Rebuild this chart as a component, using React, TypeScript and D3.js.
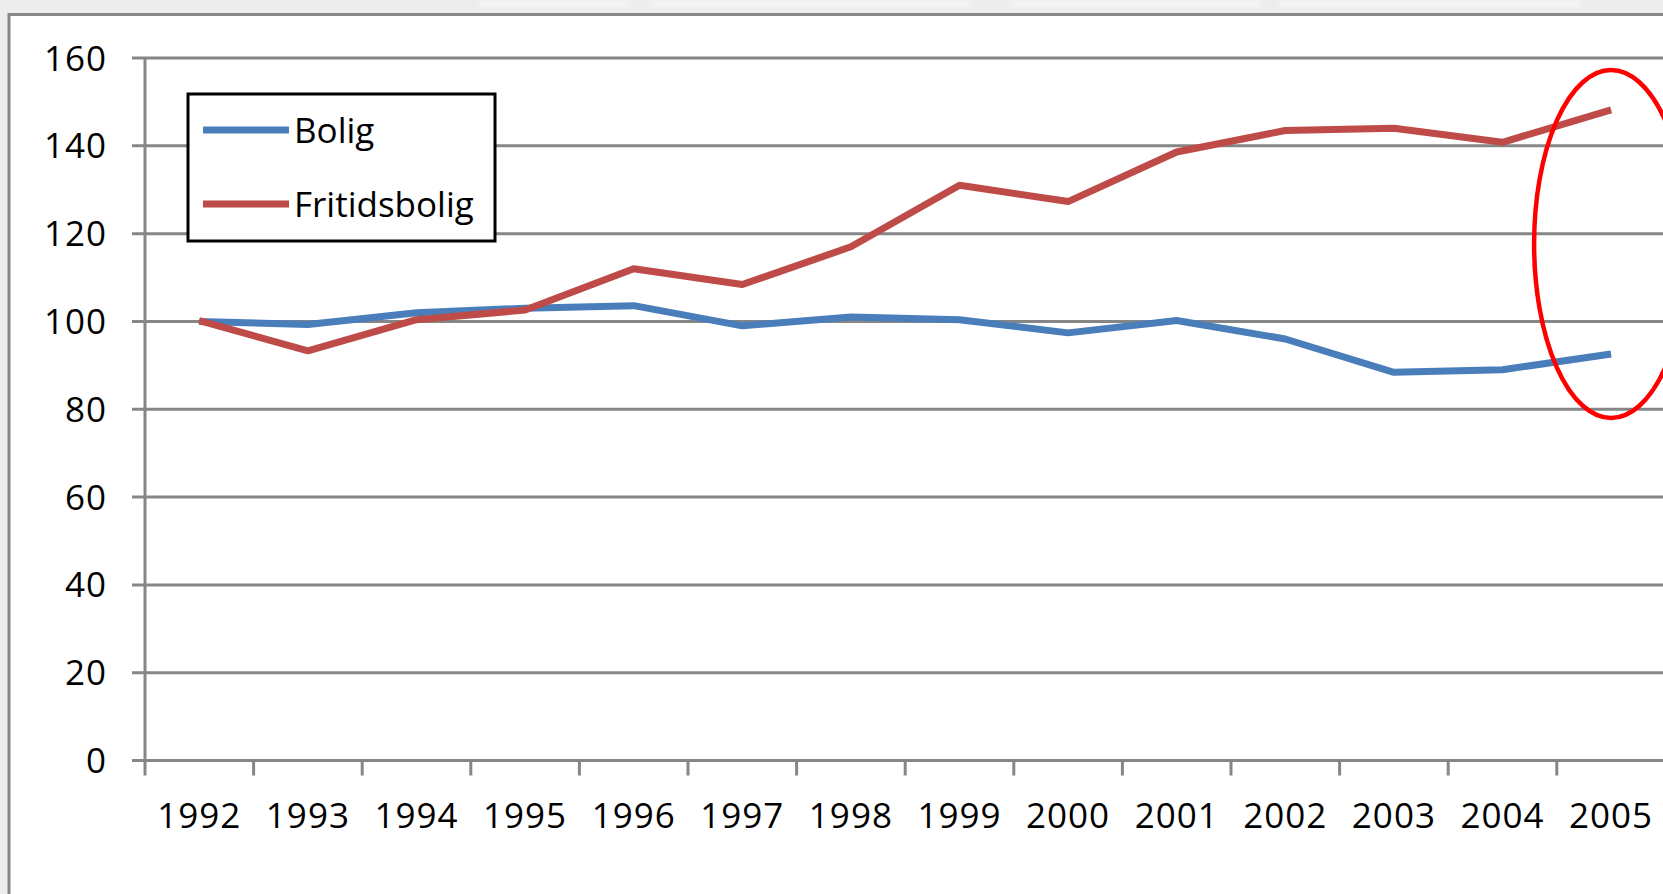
import { useEffect, useRef } from 'react'
import * as d3 from 'd3'

const years = ['1992', '1993', '1994', '1995', '1996', '1997', '1998', '1999', '2000', '2001', '2002', '2003', '2004', '2005']
const bolig = [100, 99.3, 102, 103, 103.6, 99, 101, 100.4, 97.4, 100.2, 96, 88.4, 89, 92.6]
const fritidsbolig = [100.2, 93.3, 100.4, 102.6, 112, 108.4, 117, 131, 127.3, 138.6, 143.5, 144, 140.8, 148.2]
const yTicks = [0, 20, 40, 60, 80, 100, 120, 140, 160]

const seriesList = [
  { name: 'Bolig', values: bolig, color: '#4A7EBB' },
  { name: 'Fritidsbolig', values: fritidsbolig, color: '#BE4B48' },
]

const W = 1663
const H = 894
const FONT = '"Open Sans", sans-serif'

export default function App() {
  const svgRef = useRef<SVGSVGElement>(null)

  useEffect(() => {
    document.body.style.margin = '0'
    if (!svgRef.current) return
    const svg = d3.select(svgRef.current)
    svg.selectAll('*').remove()
    svg.attr('width', W).attr('height', H)

    const left = 145
    const band = 108.6
    const top = 58
    const bottom = 760.5

    // page background, faint cut-off strip at top, chart frame
    svg.append('rect').attr('width', W).attr('height', H).attr('fill', '#ededed')
    const blur = svg.append('defs').append('filter').attr('id', 'soft')
    blur.append('feGaussianBlur').attr('stdDeviation', 2)
    ;[[480, 150], [650, 320], [1010, 250], [1280, 300]].forEach(([bx, bw]) => {
      svg.append('rect').attr('x', bx).attr('y', 0).attr('width', bw).attr('height', 8)
        .attr('fill', '#f4f4f4').attr('filter', 'url(#soft)')
    })
    svg.append('rect').attr('x', 9).attr('y', 14.5).attr('width', W + 10).attr('height', H)
      .attr('fill', '#ffffff').attr('stroke', '#878787').attr('stroke-width', 3)

    const x = d3.scaleBand().domain(years).range([left, left + band * years.length])
    const y = d3.scaleLinear().domain([0, 160]).range([bottom, top])
    const cx = (d: string) => x(d)! + x.bandwidth() / 2

    // grid
    svg.append('g').selectAll('line').data(yTicks.filter(t => t > 0)).join('line')
      .attr('x1', left - 13).attr('x2', W + 5)
      .attr('y1', d => y(d)).attr('y2', d => y(d))
      .attr('stroke', '#868686').attr('stroke-width', 3)

    // axes
    svg.append('line').attr('x1', left).attr('x2', left).attr('y1', top).attr('y2', bottom)
      .attr('stroke', '#868686').attr('stroke-width', 3)
    svg.append('line').attr('x1', left - 13).attr('x2', W + 5).attr('y1', bottom).attr('y2', bottom)
      .attr('stroke', '#868686').attr('stroke-width', 3)

    svg.append('g').selectAll('text').data(yTicks).join('text')
      .attr('x', 107).attr('y', d => y(d)).attr('dy', '0.36em')
      .attr('text-anchor', 'end').attr('font-family', FONT).attr('font-size', 35)
      .attr('letter-spacing', 1).attr('fill', '#000')
      .text(d => d)

    // x ticks
    const xt = years.map((_, i) => left + i * band).concat([left + years.length * band])
    svg.append('g').selectAll('line').data(xt).join('line')
      .attr('x1', d => d).attr('x2', d => d).attr('y1', bottom).attr('y2', bottom + 15)
      .attr('stroke', '#868686').attr('stroke-width', 3)

    svg.append('g').selectAll('text').data(years).join('text')
      .attr('x', d => cx(d)).attr('y', 815).attr('dy', '0.36em')
      .attr('text-anchor', 'middle').attr('font-family', FONT).attr('font-size', 35)
      .attr('letter-spacing', 1).attr('fill', '#000')
      .text(d => d)

    // lines
    seriesList.forEach(s => {
      const line = d3.line<number>().x((_, i) => cx(years[i])).y(d => y(d))
      svg.append('path').datum(s.values)
        .attr('fill', 'none').attr('stroke', s.color).attr('stroke-width', 7)
        .attr('stroke-linejoin', 'round').attr('d', line)
    })

    // legend
    const lg = svg.append('g')
    lg.append('rect').attr('x', 188).attr('y', 94).attr('width', 307).attr('height', 147)
      .attr('fill', '#fff').attr('stroke', '#000').attr('stroke-width', 3)
    seriesList.forEach((s, i) => {
      const ly = 130 + i * 74
      lg.append('line').attr('x1', 203).attr('x2', 289).attr('y1', ly).attr('y2', ly)
        .attr('stroke', s.color).attr('stroke-width', 7)
      lg.append('text').attr('x', 294).attr('y', ly).attr('dy', '0.36em')
        .attr('font-family', FONT).attr('font-size', 35)
        .attr('fill', '#000').text(s.name)
    })

    // highlight ellipse
    svg.append('ellipse').attr('cx', cx('2005')).attr('cy', 244).attr('rx', 77).attr('ry', 174)
      .attr('fill', 'none').attr('stroke', '#ff0000').attr('stroke-width', 4.5)
  }, [])

  return <svg ref={svgRef} style={{ display: 'block' }} />
}
